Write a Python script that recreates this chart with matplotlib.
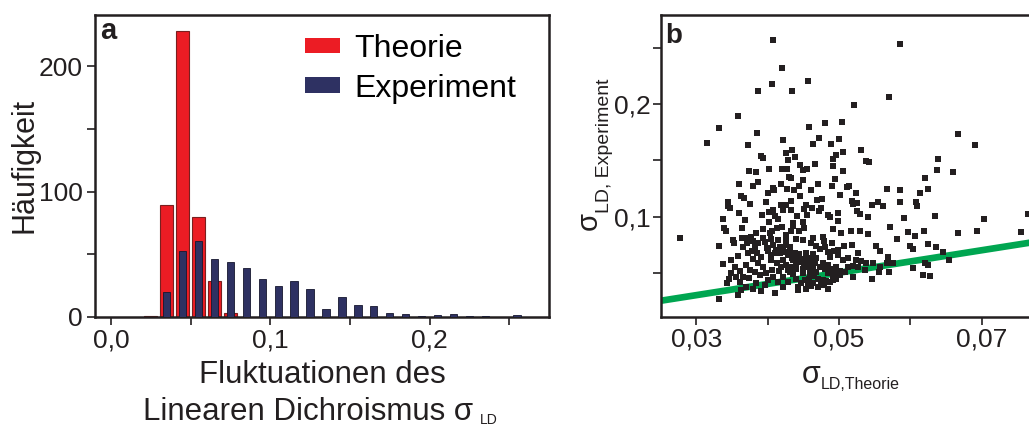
import matplotlib
matplotlib.use("Agg")
import matplotlib.pyplot as plt
from matplotlib.patches import Patch

plt.rcParams['font.family'] = ['Liberation Sans', 'DejaVu Sans']

W, H = 1029, 426

# ---- Panel a: histogram data ----
theorie_bins = [0.025, 0.035, 0.045, 0.055, 0.065, 0.075]
theorie_counts = [1, 89, 228, 80, 29, 3]

experiment_bins = [0.035, 0.045, 0.055, 0.065, 0.075, 0.085, 0.095, 0.105,
                   0.115, 0.125, 0.135, 0.145, 0.155, 0.165, 0.175, 0.185,
                   0.195, 0.205, 0.215, 0.225, 0.235, 0.245, 0.255]
experiment_counts = [20, 53, 61, 46, 44, 39, 30, 25,
                     29, 22, 6.5, 16, 9.5, 8.7, 3.5, 2.4,
                     0.7, 1.6, 2.5, 0.6, 0.6, 0, 1.4]

# ---- Panel b: scatter data (sigma theory vs. sigma experiment) ----
sigma_theorie = [
    0.0407, 0.0586, 0.0420, 0.0456, 0.0406, 0.0387, 0.0434, 0.0570, 0.0521, 0.0358,
    0.0331, 0.0458, 0.0480, 0.0504, 0.0385, 0.0667, 0.0315, 0.0372, 0.0421, 0.0464,
    0.0472, 0.0489, 0.0500, 0.0690, 0.0434, 0.0530, 0.0506, 0.0426, 0.0438, 0.0390,
    0.0394, 0.0495, 0.0491, 0.0638, 0.0538, 0.0542, 0.0466, 0.0445, 0.0429, 0.0402,
    0.0420, 0.0427, 0.0450, 0.0455, 0.0491, 0.0506, 0.0374, 0.0383, 0.0637, 0.0659,
    0.0430, 0.0433, 0.0449, 0.0621, 0.0387, 0.0360, 0.0379, 0.0418, 0.0444, 0.0471,
    0.0490, 0.0511, 0.0514, 0.0494, 0.0624, 0.0567, 0.0585, 0.0407, 0.0409, 0.0401,
    0.0427, 0.0437, 0.0460, 0.0523, 0.0445, 0.0501, 0.0614, 0.0363, 0.0367, 0.0344,
    0.0345, 0.0347, 0.0398, 0.0433, 0.0469, 0.0476, 0.0518, 0.0520, 0.0525, 0.0554,
    0.0546, 0.0562, 0.0586, 0.0608, 0.0609, 0.0375, 0.0419, 0.0425, 0.0454, 0.0462,
    0.0475, 0.0472, 0.0421, 0.0433, 0.0451, 0.0408, 0.0402, 0.0360, 0.0410, 0.0392,
    0.0441, 0.0455, 0.0485, 0.0499, 0.0525, 0.0529, 0.0541, 0.0487, 0.0337, 0.0368,
    0.0499, 0.0414, 0.0402, 0.0435, 0.0449, 0.0591, 0.0634, 0.0703, 0.0764, 0.0338,
    0.0341, 0.0364, 0.0394, 0.0406, 0.0413, 0.0420, 0.0433, 0.0436, 0.0444, 0.0451,
    0.0492, 0.0503, 0.0517, 0.0529, 0.0540, 0.0572, 0.0581, 0.0596, 0.0606, 0.0619,
    0.0667, 0.0693, 0.0755, 0.0277, 0.0331, 0.0337, 0.0352, 0.0353, 0.0358, 0.0364,
    0.0368, 0.0371, 0.0376, 0.0379, 0.0382, 0.0378, 0.0385, 0.0394, 0.0396, 0.0399,
    0.0400, 0.0405, 0.0408, 0.0411, 0.0414, 0.0417, 0.0425, 0.0425, 0.0431, 0.0430,
    0.0434, 0.0438, 0.0444, 0.0447, 0.0453, 0.0458, 0.0460, 0.0451, 0.0461, 0.0464,
    0.0440, 0.0433, 0.0460, 0.0467, 0.0477, 0.0479, 0.0490, 0.0485, 0.0487, 0.0493,
    0.0499, 0.0507, 0.0518, 0.0523, 0.0513, 0.0520, 0.0531, 0.0551, 0.0557, 0.0568,
    0.0567, 0.0570, 0.0600, 0.0604, 0.0625, 0.0636, 0.0646, 0.0654, 0.0621, 0.0624,
    0.0604, 0.0618, 0.0627, 0.0556, 0.0546, 0.0536, 0.0548, 0.0520, 0.0501, 0.0496,
    0.0484, 0.0487, 0.0484, 0.0474, 0.0464, 0.0457, 0.0449, 0.0442, 0.0442, 0.0431,
    0.0422, 0.0421, 0.0410, 0.0407, 0.0406, 0.0398, 0.0391, 0.0384, 0.0382, 0.0374,
    0.0370, 0.0363, 0.0358, 0.0361, 0.0361, 0.0356, 0.0348, 0.0343, 0.0346, 0.0331,
    0.0429, 0.0436, 0.0440, 0.0446, 0.0452, 0.0457, 0.0461, 0.0466, 0.0468, 0.0473,
    0.0477, 0.0480, 0.0485, 0.0489, 0.0494, 0.0496, 0.0491, 0.0482, 0.0477, 0.0471,
    0.0465, 0.0458, 0.0452, 0.0446, 0.0440, 0.0436, 0.0440, 0.0429, 0.0425, 0.0419,
    0.0416, 0.0413, 0.0421, 0.0426, 0.0454, 0.0463, 0.0468, 0.0459, 0.0450, 0.0479,
    0.0471, 0.0461, 0.0453, 0.0492, 0.0501, 0.0508, 0.0513,
    0.0365, 0.0373, 0.0380, 0.0387, 0.0391, 0.0394, 0.0389, 0.0400, 0.0405, 0.0410,
    0.0417, 0.0421, 0.0405, 0.0387, 0.0369, 0.0375, 0.0354, 0.0349, 0.0365, 0.0380,
    0.0396, 0.0414, 0.0429, 0.0384, 0.0403, 0.0426, 0.0439, 0.0450, 0.0464, 0.0473,
    0.0480, 0.0499, 0.0506, 0.0527, 0.0527, 0.0538, 0.0557, 0.0576,
]
sigma_experiment = [
    0.2575, 0.2536, 0.2320, 0.2210, 0.2184, 0.2115, 0.2118, 0.2068, 0.1997, 0.1893,
    0.1786, 0.1795, 0.1831, 0.1845, 0.1742, 0.1733, 0.1656, 0.1641, 0.1685, 0.1644,
    0.1703, 0.1644, 0.1688, 0.1641, 0.1596, 0.1596, 0.1578, 0.1564, 0.1534, 0.1543,
    0.1522, 0.1552, 0.1510, 0.1516, 0.1495, 0.1484, 0.1472, 0.1460, 0.1501, 0.1424,
    0.1427, 0.1424, 0.1418, 0.1424, 0.1451, 0.1409, 0.1406, 0.1400, 0.1415, 0.1400,
    0.1353, 0.1344, 0.1329, 0.1347, 0.1306, 0.1291, 0.1276, 0.1294, 0.1273, 0.1291,
    0.1270, 0.1264, 0.1270, 0.1335, 0.1249, 0.1249, 0.1238, 0.1258, 0.1240, 0.1213,
    0.1246, 0.1234, 0.1240, 0.1211, 0.1187, 0.1193, 0.1211, 0.1181, 0.1169, 0.1133,
    0.1092, 0.1074, 0.1130, 0.1136, 0.1146, 0.1152, 0.1139, 0.1110, 0.1121, 0.1133,
    0.1104, 0.1095, 0.1128, 0.1128, 0.1092, 0.1113, 0.1107, 0.1107, 0.1101, 0.1078,
    0.1080, 0.1050, 0.1060, 0.1060, 0.1067, 0.1058, 0.1043, 0.1032, 0.1007, 0.1015,
    0.1006, 0.1012, 0.1012, 0.1036, 0.1045, 0.1023, 0.0996, 0.0996, 0.0979, 0.0965,
    0.0961, 0.0976, 0.0955, 0.0944, 0.0955, 0.0985, 0.1006, 0.0979, 0.1027, 0.0902,
    0.0873, 0.0896, 0.0893, 0.0870, 0.0896, 0.0908, 0.0867, 0.0917, 0.0874, 0.0896,
    0.0887, 0.0849, 0.0874, 0.0867, 0.0843, 0.0908, 0.0801, 0.0861, 0.0831, 0.0870,
    0.0855, 0.0867, 0.0861, 0.0807, 0.0739, 0.0579, 0.0789, 0.0766, 0.0647, 0.0813,
    0.0813, 0.0760, 0.0819, 0.0783, 0.0730, 0.0695, 0.0671, 0.0810, 0.0769, 0.0718,
    0.0695, 0.0801, 0.0745, 0.0706, 0.0789, 0.0730, 0.0801, 0.0751, 0.0730, 0.0671,
    0.0635, 0.0671, 0.0665, 0.0620, 0.0641, 0.0623, 0.0635, 0.0582, 0.0591, 0.0552,
    0.0582, 0.0552, 0.0760, 0.0736, 0.0816, 0.0783, 0.0766, 0.0687, 0.0641, 0.0695,
    0.0656, 0.0739, 0.0748, 0.0617, 0.0635, 0.0561, 0.0600, 0.0736, 0.0695, 0.0644,
    0.0582, 0.0504, 0.0736, 0.0712, 0.0754, 0.0730, 0.0680, 0.0614, 0.0582, 0.0567,
    0.0546, 0.0481, 0.0472, 0.0505, 0.0443, 0.0522, 0.0582, 0.0463, 0.0516, 0.0552,
    0.0493, 0.0416, 0.0356, 0.0398, 0.0410, 0.0389, 0.0493, 0.0374, 0.0345, 0.0504,
    0.0463, 0.0369, 0.0321, 0.0463, 0.0522, 0.0493, 0.0339, 0.0404, 0.0508, 0.0449,
    0.0374, 0.0345, 0.0303, 0.0419, 0.0516, 0.0463, 0.0499, 0.0410, 0.0440, 0.0264,
    0.0656, 0.0612, 0.0641, 0.0597, 0.0552, 0.0582, 0.0537, 0.0582, 0.0508, 0.0552,
    0.0582, 0.0529, 0.0567, 0.0529, 0.0499, 0.0448, 0.0434, 0.0428, 0.0434, 0.0448,
    0.0469, 0.0448, 0.0434, 0.0410, 0.0448, 0.0487, 0.0529, 0.0523, 0.0567, 0.0552,
    0.0517, 0.0582, 0.0612, 0.0686, 0.0671, 0.0665, 0.0635, 0.0499, 0.0537, 0.0389,
    0.0374, 0.0380, 0.0359, 0.0478, 0.0478, 0.0508, 0.0552,
    0.0730, 0.0671, 0.0626, 0.0582, 0.0641, 0.0552, 0.0478, 0.0434, 0.0612, 0.0671,
    0.0671, 0.0715, 0.0656, 0.0760, 0.0567, 0.0523, 0.0552, 0.0612, 0.0463, 0.0359,
    0.0389, 0.0419, 0.0419, 0.0849, 0.0849, 0.0834, 0.0804, 0.0789, 0.0813, 0.0715,
    0.0730, 0.0706, 0.0612, 0.0671, 0.0552, 0.0582, 0.0552, 0.0582,
]
diagonal = [0.02, 0.09]

RED = '#ec1c24'
NAVY = '#2e3162'
INK = '#231f20'
GREEN = '#00a651'


def fx(px):
    return px / W


def fy(py):
    return 1 - py / H


fig = plt.figure(figsize=(W / 100, H / 100), dpi=100)

# ---------------- panel a ----------------
ax1 = fig.add_axes([fx(95), fy(317), (549 - 95) / W, (317 - 15) / H])
ax1.bar(theorie_bins, theorie_counts, width=0.0084, color=RED,
        edgecolor='#7a1f1f', linewidth=0.8, zorder=2)
ax1.bar(experiment_bins, experiment_counts, width=0.0046, color=NAVY,
        edgecolor='#15172e', linewidth=0.6, zorder=3)
ax1.set_xlim(-0.01, 0.275)
ax1.set_ylim(0, 241)
ax1.set_xticks([0.0, 0.05, 0.1, 0.15, 0.2, 0.25])
ax1.set_xticklabels(['0,0', '', '0,1', '', '0,2', ''])
ax1.set_yticks([0, 50, 100, 150, 200])
ax1.set_yticklabels(['0', '', '100', '', '200'])

handles = [Patch(facecolor=RED, edgecolor='none', label='Theorie'),
           Patch(facecolor=NAVY, edgecolor='none', label='Experiment')]
ax1.legend(handles=handles, loc='upper left',
           bbox_to_anchor=((305 - 95) / 454, 1 - (34 - 15) / 302),
           frameon=False, fontsize=23, handlelength=1.1, handleheight=0.36,
           handletextpad=0.45, labelspacing=0.3, borderpad=0, borderaxespad=0)

# ---------------- panel b ----------------
ax2 = fig.add_axes([fx(660.7), fy(316.7), (1053.2 - 660.7) / W, (316.7 - 15) / H])
ax2.plot(diagonal, diagonal, color=GREEN, linewidth=4.8, solid_capstyle='butt', zorder=2)
ax2.plot(sigma_theorie, sigma_experiment, linestyle='none', marker='s',
         markersize=3.9, color=INK, markeredgewidth=0, zorder=3)
ax2.set_xlim(0.025, 0.08)
ax2.set_ylim(0.0108, 0.2795)
ax2.set_xticks([0.03, 0.04, 0.05, 0.06, 0.07])
ax2.set_xticklabels(['0,03', '', '0,05', '', '0,07'])
ax2.set_yticks([0.05, 0.1, 0.15, 0.2, 0.25])
ax2.set_yticklabels(['', '0,1', '', '0,2', ''])

for ax in (ax1, ax2):
    for side in ('top', 'right', 'left', 'bottom'):
        ax.spines[side].set_linewidth(1.8)
        ax.spines[side].set_color(INK)
    ax.tick_params(direction='out', length=6, width=1.2, colors=INK,
                   labelsize=19, labelcolor=INK)
    ax.tick_params(axis='x', pad=2)
ax1.tick_params(axis='y', pad=3)
ax2.tick_params(axis='y', pad=1)

# ---------------- labels ----------------
fig.text(fx(100), fy(39), 'a', fontsize=21, fontweight='bold', color=INK)
fig.text(fx(665), fy(43), 'b', fontsize=20, fontweight='bold', color=INK)

fig.text(fx(33), fy(165), 'Häufigkeit', fontsize=22, rotation=90,
         rotation_mode='anchor', ha='center', va='baseline', color=INK)

fig.text(fx(322), fy(383), 'Fluktuationen des', fontsize=22.5,
         ha='center', va='baseline', color=INK)
fig.text(fx(143), fy(420), 'Linearen Dichroismus σ', fontsize=22.5,
         ha='left', va='baseline', color=INK)
fig.text(fx(480), fy(424), 'LD', fontsize=10, ha='left', va='baseline', color=INK)

fig.text(fx(802), fy(383), 'σ', fontsize=22, ha='left', va='baseline', color=INK)
fig.text(fx(820.5), fy(389), 'LD,Theorie', fontsize=11.5, ha='left',
         va='baseline', color=INK)

fig.text(fx(597), fy(230), 'σ', fontsize=21, rotation=90, rotation_mode='anchor',
         ha='left', va='baseline', color=INK)
fig.text(fx(609), fy(213), 'LD, Experiment', fontsize=14, rotation=90,
         rotation_mode='anchor', ha='left', va='baseline', color=INK)

fig.savefig('out.png', dpi=100)
